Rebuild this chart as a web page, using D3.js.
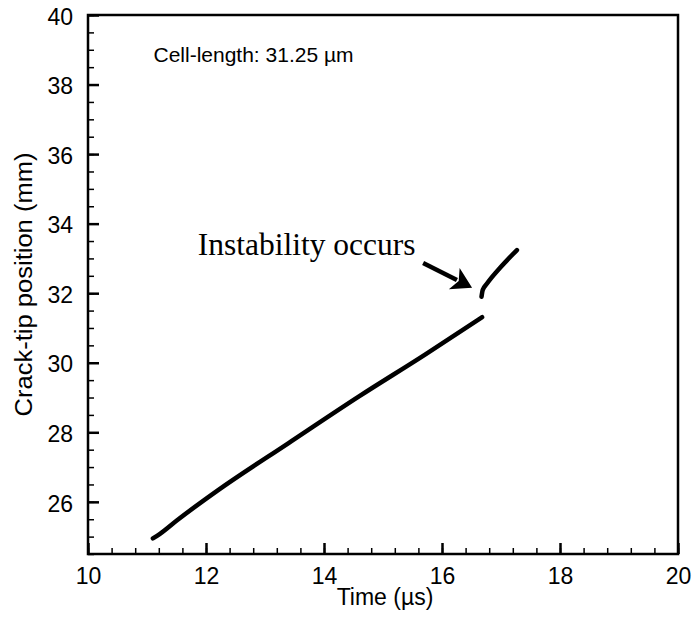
<!DOCTYPE html>
<html>
<head>
<meta charset="utf-8">
<script src="https://cdn.jsdelivr.net/npm/d3@7"></script>
<style>
  body { margin: 0; background: #fff; }
  svg { display: block; }
  .tick text { font-family: "Liberation Sans", Arial, sans-serif; }
</style>
</head>
<body>
<svg id="chart" width="694" height="617"></svg>
<script>
// crack-tip position vs time
const time_main = [11.10, 11.22, 11.51, 12.20, 13.40, 14.60, 15.70, 16.68]
const pos_main  = [24.95, 25.08, 25.47, 26.33, 27.69, 29.04, 30.22, 31.31]
const time_jump = [16.67, 16.69, 16.76, 17.00, 17.27]
const pos_jump  = [31.90, 32.09, 32.27, 32.76, 33.24]

const x_ticks = [10, 12, 14, 16, 18, 20]
const y_ticks = [26, 28, 30, 32, 34, 36, 38, 40]

var svg = d3.select("#chart"),
	plot_l = 88, plot_r = 678, plot_t = 15, plot_b = 554

var xScale = d3.scaleLinear().domain([10, 20]).range([plot_l, plot_r]),
	yScale = d3.scaleLinear().domain([24.5, 40]).range([plot_b, plot_t])

var sans = "'Liberation Sans', Arial, Helvetica, sans-serif"

// minor ticks (inward)
svg.append("g")
	.attr("transform", "translate(0," + plot_b + ")")
	.call(d3.axisBottom(xScale).tickValues(d3.range(10, 20.001, 0.4)).tickSize(-6).tickFormat(""))
	.call(g => g.select(".domain").remove())
	.selectAll("line").attr("stroke", "#000").attr("stroke-width", 1.5)

svg.append("g")
	.attr("transform", "translate(" + plot_l + ",0)")
	.call(d3.axisLeft(yScale).tickValues(d3.range(24.5, 40.001, 0.5)).tickSize(-6).tickFormat(""))
	.call(g => g.select(".domain").remove())
	.selectAll("line").attr("stroke", "#000").attr("stroke-width", 1.5)

// major ticks + labels
var xa = svg.append("g")
	.attr("transform", "translate(0," + plot_b + ")")
	.call(d3.axisBottom(xScale).tickValues(x_ticks).tickSize(-11).tickFormat(d3.format("d")))
xa.select(".domain").remove()
xa.selectAll("line").attr("stroke", "#000").attr("stroke-width", 2.5)
xa.selectAll("text").attr("font-size", "23px").attr("fill", "#000").attr("dy", "0.71em").attr("y", 14)

var ya = svg.append("g")
	.attr("transform", "translate(" + plot_l + ",0)")
	.call(d3.axisLeft(yScale).tickValues(y_ticks).tickSize(-11).tickFormat(d3.format("d")))
ya.select(".domain").remove()
ya.selectAll("line").attr("stroke", "#000").attr("stroke-width", 2.5)
ya.selectAll("text").attr("font-size", "23px").attr("fill", "#000").attr("x", -15).attr("dy", "0.4em")

// frame
svg.append("rect")
	.attr("x", plot_l).attr("y", plot_t)
	.attr("width", plot_r - plot_l).attr("height", plot_b - plot_t)
	.attr("fill", "none").attr("stroke", "#000").attr("stroke-width", 2.5)

// axis titles
svg.append("text")
	.attr("x", 385).attr("y", 605)
	.attr("text-anchor", "middle")
	.attr("font-family", sans).attr("font-size", "23px")
	.text("Time (\u00b5s)")

svg.append("text")
	.attr("transform", "translate(32," + (plot_t + plot_b) / 2 + ") rotate(-90)")
	.attr("text-anchor", "middle")
	.attr("font-family", sans).attr("font-size", "23px")
	.attr("textLength", 264).attr("lengthAdjust", "spacingAndGlyphs")
	.text("Crack-tip position (mm)")

// curves
var line = d3.line()
	.x(function(d) { return xScale(d[0]) })
	.y(function(d) { return yScale(d[1]) })
	.curve(d3.curveMonotoneX)

svg.append("path")
	.datum(time_main.map(function(t, i) { return [t, pos_main[i]] }))
	.attr("d", line)
	.attr("fill", "none").attr("stroke", "#000").attr("stroke-width", 4.5)
	.attr("stroke-linecap", "round")

svg.append("path")
	.datum(time_jump.map(function(t, i) { return [t, pos_jump[i]] }))
	.attr("d", line)
	.attr("fill", "none").attr("stroke", "#000").attr("stroke-width", 4.5)
	.attr("stroke-linecap", "round")

// annotations
svg.append("text")
	.attr("x", xScale(11.11)).attr("y", yScale(38.65))
	.attr("font-family", sans).attr("font-size", "21px")
	.text("Cell-length: 31.25 \u00b5m")

svg.append("text")
	.attr("x", xScale(11.86)).attr("y", yScale(33.1))
	.attr("font-family", "'Liberation Serif', 'Times New Roman', serif").attr("font-size", "31.5px")
	.text("Instability occurs")

// arrow
var tail = [xScale(15.68), yScale(32.87)],
	tip = [xScale(16.51), yScale(32.16)]
var ang = Math.atan2(tip[1] - tail[1], tip[0] - tail[0]),
	hl = 20, hw = 12
var base = [tip[0] - hl * Math.cos(ang), tip[1] - hl * Math.sin(ang)]
svg.append("line")
	.attr("x1", tail[0]).attr("y1", tail[1])
	.attr("x2", base[0] + 3 * Math.cos(ang)).attr("y2", base[1] + 3 * Math.sin(ang))
	.attr("stroke", "#000").attr("stroke-width", 4.5)
svg.append("path")
	.attr("d", "M" + tip[0] + "," + tip[1] +
		"L" + (base[0] - hw * Math.sin(ang)) + "," + (base[1] + hw * Math.cos(ang)) +
		"L" + (base[0] + 5 * Math.cos(ang)) + "," + (base[1] + 5 * Math.sin(ang)) +
		"L" + (base[0] + hw * Math.sin(ang)) + "," + (base[1] - hw * Math.cos(ang)) + "Z")
	.attr("fill", "#000")
</script>
</body>
</html>
